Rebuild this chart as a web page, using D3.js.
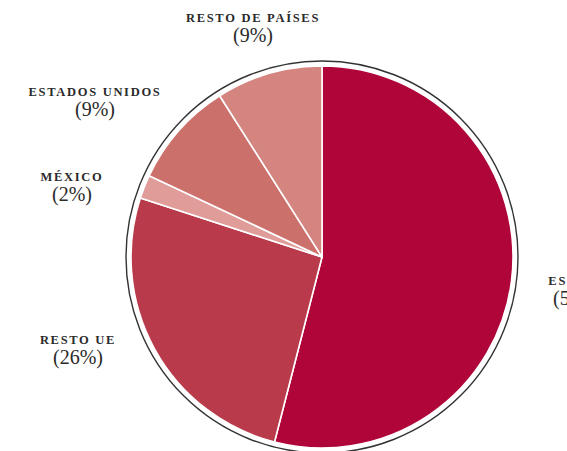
<!DOCTYPE html>
<html><head><meta charset="utf-8">
<script src="https://cdn.jsdelivr.net/npm/d3@7"></script>
<style>
html,body{margin:0;padding:0;background:#fff;overflow:hidden}
</style></head>
<body><svg id="c" width="567" height="451"></svg>
<script>
const categories = ["España", "Resto UE", "México", "Estados Unidos", "Resto de países"];
const values = [54, 26, 2, 9, 9];
const colors = ["#b00538", "#b83a4b", "#df9c99", "#cc706c", "#d48580"];

const W = 567, H = 451;
const cx = 322, cy = 257, R = 191;
const svg = d3.select("#c");
const g = svg.append("g").attr("transform", `translate(${cx},${cy})`);

// outer ring
g.append("circle").attr("r", R + 5).attr("fill", "none").attr("stroke", "#333").attr("stroke-width", 1.4);

const pie = d3.pie().sort(null).value(d => d.v);
const arcs = pie(categories.map((c, i) => ({c, v: values[i], col: colors[i]})));
const arc = d3.arc().innerRadius(0).outerRadius(R);

g.selectAll("path.s").data(arcs).enter().append("path")
  .attr("class", "s").attr("d", arc).attr("fill", d => d.data.col)
  .attr("stroke", "#fff").attr("stroke-width", 1.6).attr("stroke-linejoin", "round");

// label offsets from center (layout)
const labelOffset = {
  "España": [256, 28],
  "Resto UE": [-244, 87],
  "México": [-250, -76],
  "Estados Unidos": [-227, -161],
  "Resto de países": [-69, -235]
};
const lab = g.selectAll("g.l").data(arcs).enter().append("g").attr("class", "l")
  .attr("transform", d => `translate(${labelOffset[d.data.c][0]},${labelOffset[d.data.c][1]})`);
lab.append("text").attr("text-anchor", "middle").attr("y", 0)
  .attr("font-family", "'Liberation Serif', serif").attr("font-size", 12.5)
  .attr("font-weight", "bold").attr("letter-spacing", 1.7).attr("fill", "#2a2a2a")
  .text(d => d.data.c.toUpperCase());
lab.append("text").attr("text-anchor", "middle").attr("y", 20)
  .attr("font-family", "'Liberation Serif', serif").attr("font-size", 20)
  .attr("fill", "#2a2a2a")
  .text(d => `(${d.data.v}%)`);
</script></body></html>
